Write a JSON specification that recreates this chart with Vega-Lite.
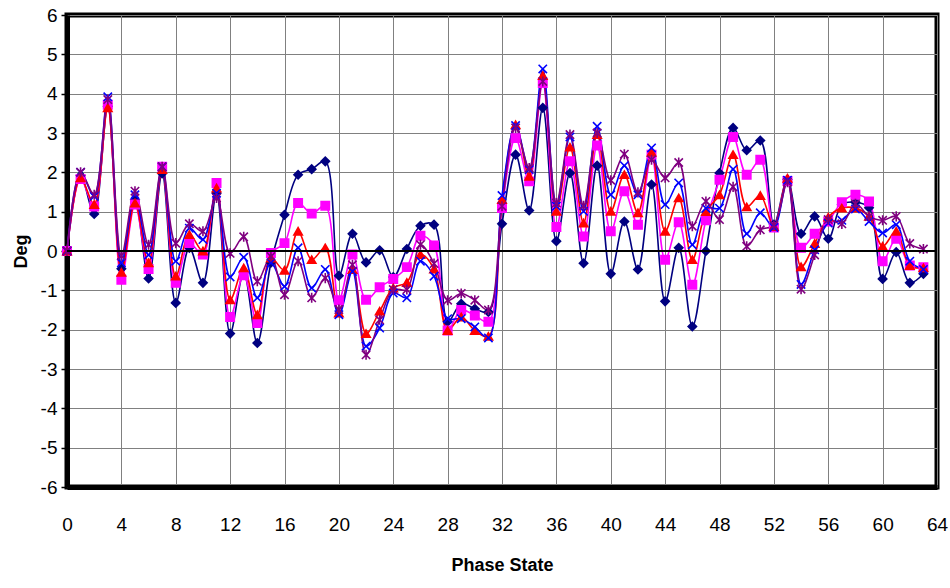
{
  "$schema": "https://vega.github.io/schema/vega-lite/v6.json",
  "width": 870,
  "height": 472,
  "autosize": {"type": "none"},
  "padding": {"left": 67, "top": 15, "right": 13, "bottom": 101},
  "background": "white",
  "view": {"stroke": "black", "strokeWidth": 5},
  "config": {
    "axis": {"labelFont": "Liberation Sans", "labelFontSize": 19, "labelColor": "black", "titleFont": "Liberation Sans", "titleFontSize": 18, "titleFontWeight": "bold", "titleColor": "black", "gridColor": "#808080", "gridWidth": 1, "gridOpacity": 1, "labelOverlap": false, "domainColor": "black", "domainWidth": 5}
  },
  "data": {"values": [
{"x":0,"s":"S1","v":0},{"x":1,"s":"S1","v":1.92},{"x":2,"s":"S1","v":0.94},{"x":3,"s":"S1","v":3.68},{"x":4,"s":"S1","v":-0.45},{"x":5,"s":"S1","v":1.3},{"x":6,"s":"S1","v":-0.7},{"x":7,"s":"S1","v":1.97},{"x":8,"s":"S1","v":-1.32},{"x":9,"s":"S1","v":0.08},{"x":10,"s":"S1","v":-0.81},{"x":11,"s":"S1","v":1.47},{"x":12,"s":"S1","v":-2.1},{"x":13,"s":"S1","v":-0.55},{"x":14,"s":"S1","v":-2.34},{"x":15,"s":"S1","v":-0.3},{"x":16,"s":"S1","v":0.92},{"x":17,"s":"S1","v":1.94},{"x":18,"s":"S1","v":2.08},{"x":19,"s":"S1","v":2.28},{"x":20,"s":"S1","v":-0.63},{"x":21,"s":"S1","v":0.44},{"x":22,"s":"S1","v":-0.29},{"x":23,"s":"S1","v":0.02},{"x":24,"s":"S1","v":-0.66},{"x":25,"s":"S1","v":0.05},{"x":26,"s":"S1","v":0.64},{"x":27,"s":"S1","v":0.67},{"x":28,"s":"S1","v":-1.8},{"x":29,"s":"S1","v":-1.34},{"x":30,"s":"S1","v":-1.47},{"x":31,"s":"S1","v":-1.55},{"x":32,"s":"S1","v":0.69},{"x":33,"s":"S1","v":2.45},{"x":34,"s":"S1","v":1.03},{"x":35,"s":"S1","v":3.64},{"x":36,"s":"S1","v":0.25},{"x":37,"s":"S1","v":1.98},{"x":38,"s":"S1","v":-0.31},{"x":39,"s":"S1","v":2.17},{"x":40,"s":"S1","v":-0.58},{"x":41,"s":"S1","v":0.75},{"x":42,"s":"S1","v":-0.47},{"x":43,"s":"S1","v":1.69},{"x":44,"s":"S1","v":-1.28},{"x":45,"s":"S1","v":0.08},{"x":46,"s":"S1","v":-1.92},{"x":47,"s":"S1","v":0},{"x":48,"s":"S1","v":1.98},{"x":49,"s":"S1","v":3.13},{"x":50,"s":"S1","v":2.56},{"x":51,"s":"S1","v":2.81},{"x":52,"s":"S1","v":0.67},{"x":53,"s":"S1","v":1.82},{"x":54,"s":"S1","v":0.44},{"x":55,"s":"S1","v":0.88},{"x":56,"s":"S1","v":0.31},{"x":57,"s":"S1","v":1.18},{"x":58,"s":"S1","v":1.24},{"x":59,"s":"S1","v":1.1},{"x":60,"s":"S1","v":-0.71},{"x":61,"s":"S1","v":-0.03},{"x":62,"s":"S1","v":-0.81},{"x":63,"s":"S1","v":-0.58},
{"x":0,"s":"S2","v":0},{"x":1,"s":"S2","v":1.83},{"x":2,"s":"S2","v":1.13},{"x":3,"s":"S2","v":3.72},{"x":4,"s":"S2","v":-0.73},{"x":5,"s":"S2","v":1.18},{"x":6,"s":"S2","v":-0.46},{"x":7,"s":"S2","v":2.14},{"x":8,"s":"S2","v":-0.81},{"x":9,"s":"S2","v":0.2},{"x":10,"s":"S2","v":-0.09},{"x":11,"s":"S2","v":1.73},{"x":12,"s":"S2","v":-1.68},{"x":13,"s":"S2","v":-0.62},{"x":14,"s":"S2","v":-1.83},{"x":15,"s":"S2","v":-0.05},{"x":16,"s":"S2","v":0.2},{"x":17,"s":"S2","v":1.22},{"x":18,"s":"S2","v":0.95},{"x":19,"s":"S2","v":1.15},{"x":20,"s":"S2","v":-1.25},{"x":21,"s":"S2","v":-0.09},{"x":22,"s":"S2","v":-1.24},{"x":23,"s":"S2","v":-0.92},{"x":24,"s":"S2","v":-0.71},{"x":25,"s":"S2","v":-0.41},{"x":26,"s":"S2","v":0.39},{"x":27,"s":"S2","v":0.14},{"x":28,"s":"S2","v":-2.02},{"x":29,"s":"S2","v":-1.5},{"x":30,"s":"S2","v":-1.64},{"x":31,"s":"S2","v":-1.8},{"x":32,"s":"S2","v":1.09},{"x":33,"s":"S2","v":2.87},{"x":34,"s":"S2","v":1.77},{"x":35,"s":"S2","v":4.27},{"x":36,"s":"S2","v":0.61},{"x":37,"s":"S2","v":2.28},{"x":38,"s":"S2","v":0.37},{"x":39,"s":"S2","v":2.68},{"x":40,"s":"S2","v":0.5},{"x":41,"s":"S2","v":1.52},{"x":42,"s":"S2","v":0.67},{"x":43,"s":"S2","v":2.45},{"x":44,"s":"S2","v":-0.22},{"x":45,"s":"S2","v":0.73},{"x":46,"s":"S2","v":-0.86},{"x":47,"s":"S2","v":0.78},{"x":48,"s":"S2","v":1.81},{"x":49,"s":"S2","v":2.9},{"x":50,"s":"S2","v":1.94},{"x":51,"s":"S2","v":2.32},{"x":52,"s":"S2","v":0.6},{"x":53,"s":"S2","v":1.78},{"x":54,"s":"S2","v":0.08},{"x":55,"s":"S2","v":0.44},{"x":56,"s":"S2","v":0.75},{"x":57,"s":"S2","v":1.24},{"x":58,"s":"S2","v":1.43},{"x":59,"s":"S2","v":1.26},{"x":60,"s":"S2","v":-0.26},{"x":61,"s":"S2","v":0.31},{"x":62,"s":"S2","v":-0.37},{"x":63,"s":"S2","v":-0.41},
{"x":0,"s":"S3","v":0},{"x":1,"s":"S3","v":1.86},{"x":2,"s":"S3","v":1.18},{"x":3,"s":"S3","v":3.64},{"x":4,"s":"S3","v":-0.54},{"x":5,"s":"S3","v":1.22},{"x":6,"s":"S3","v":-0.3},{"x":7,"s":"S3","v":2.07},{"x":8,"s":"S3","v":-0.64},{"x":9,"s":"S3","v":0.42},{"x":10,"s":"S3","v":0},{"x":11,"s":"S3","v":1.6},{"x":12,"s":"S3","v":-1.24},{"x":13,"s":"S3","v":-0.43},{"x":14,"s":"S3","v":-1.62},{"x":15,"s":"S3","v":-0.18},{"x":16,"s":"S3","v":-0.49},{"x":17,"s":"S3","v":0.5},{"x":18,"s":"S3","v":-0.22},{"x":19,"s":"S3","v":0.08},{"x":20,"s":"S3","v":-1.58},{"x":21,"s":"S3","v":-0.47},{"x":22,"s":"S3","v":-2.1},{"x":23,"s":"S3","v":-1.53},{"x":24,"s":"S3","v":-0.94},{"x":25,"s":"S3","v":-0.8},{"x":26,"s":"S3","v":-0.09},{"x":27,"s":"S3","v":-0.46},{"x":28,"s":"S3","v":-2.02},{"x":29,"s":"S3","v":-1.68},{"x":30,"s":"S3","v":-2.02},{"x":31,"s":"S3","v":-2.17},{"x":32,"s":"S3","v":1.31},{"x":33,"s":"S3","v":3.21},{"x":34,"s":"S3","v":1.9},{"x":35,"s":"S3","v":4.46},{"x":36,"s":"S3","v":1.01},{"x":37,"s":"S3","v":2.64},{"x":38,"s":"S3","v":0.71},{"x":39,"s":"S3","v":2.96},{"x":40,"s":"S3","v":1.01},{"x":41,"s":"S3","v":1.94},{"x":42,"s":"S3","v":0.97},{"x":43,"s":"S3","v":2.51},{"x":44,"s":"S3","v":0.5},{"x":45,"s":"S3","v":1.35},{"x":46,"s":"S3","v":-0.22},{"x":47,"s":"S3","v":1},{"x":48,"s":"S3","v":1.43},{"x":49,"s":"S3","v":2.45},{"x":50,"s":"S3","v":1.12},{"x":51,"s":"S3","v":1.41},{"x":52,"s":"S3","v":0.62},{"x":53,"s":"S3","v":1.85},{"x":54,"s":"S3","v":-0.4},{"x":55,"s":"S3","v":0.19},{"x":56,"s":"S3","v":0.86},{"x":57,"s":"S3","v":1.09},{"x":58,"s":"S3","v":1.09},{"x":59,"s":"S3","v":0.88},{"x":60,"s":"S3","v":0.12},{"x":61,"s":"S3","v":0.5},{"x":62,"s":"S3","v":-0.37},{"x":63,"s":"S3","v":-0.43},
{"x":0,"s":"S4","v":0},{"x":1,"s":"S4","v":2.0},{"x":2,"s":"S4","v":1.39},{"x":3,"s":"S4","v":3.92},{"x":4,"s":"S4","v":-0.3},{"x":5,"s":"S4","v":1.43},{"x":6,"s":"S4","v":-0.1},{"x":7,"s":"S4","v":2.14},{"x":8,"s":"S4","v":-0.26},{"x":9,"s":"S4","v":0.58},{"x":10,"s":"S4","v":0.29},{"x":11,"s":"S4","v":1.47},{"x":12,"s":"S4","v":-0.66},{"x":13,"s":"S4","v":-0.16},{"x":14,"s":"S4","v":-1.19},{"x":15,"s":"S4","v":-0.3},{"x":16,"s":"S4","v":-0.9},{"x":17,"s":"S4","v":0.08},{"x":18,"s":"S4","v":-0.94},{"x":19,"s":"S4","v":-0.47},{"x":20,"s":"S4","v":-1.62},{"x":21,"s":"S4","v":-0.52},{"x":22,"s":"S4","v":-2.42},{"x":23,"s":"S4","v":-1.96},{"x":24,"s":"S4","v":-1.07},{"x":25,"s":"S4","v":-1.19},{"x":26,"s":"S4","v":-0.26},{"x":27,"s":"S4","v":-0.64},{"x":28,"s":"S4","v":-1.72},{"x":29,"s":"S4","v":-1.72},{"x":30,"s":"S4","v":-1.93},{"x":31,"s":"S4","v":-2.21},{"x":32,"s":"S4","v":1.41},{"x":33,"s":"S4","v":3.19},{"x":34,"s":"S4","v":2.07},{"x":35,"s":"S4","v":4.63},{"x":36,"s":"S4","v":1.14},{"x":37,"s":"S4","v":2.9},{"x":38,"s":"S4","v":1.01},{"x":39,"s":"S4","v":3.17},{"x":40,"s":"S4","v":1.43},{"x":41,"s":"S4","v":2.17},{"x":42,"s":"S4","v":1.43},{"x":43,"s":"S4","v":2.62},{"x":44,"s":"S4","v":1.18},{"x":45,"s":"S4","v":1.73},{"x":46,"s":"S4","v":0.16},{"x":47,"s":"S4","v":1.09},{"x":48,"s":"S4","v":1.09},{"x":49,"s":"S4","v":2.08},{"x":50,"s":"S4","v":0.44},{"x":51,"s":"S4","v":0.97},{"x":52,"s":"S4","v":0.6},{"x":53,"s":"S4","v":1.8},{"x":54,"s":"S4","v":-0.85},{"x":55,"s":"S4","v":0.03},{"x":56,"s":"S4","v":0.71},{"x":57,"s":"S4","v":0.78},{"x":58,"s":"S4","v":1.07},{"x":59,"s":"S4","v":0.75},{"x":60,"s":"S4","v":0.46},{"x":61,"s":"S4","v":0.67},{"x":62,"s":"S4","v":-0.26},{"x":63,"s":"S4","v":-0.47},
{"x":0,"s":"S5","v":0},{"x":1,"s":"S5","v":2.0},{"x":2,"s":"S5","v":1.43},{"x":3,"s":"S5","v":3.85},{"x":4,"s":"S5","v":-0.12},{"x":5,"s":"S5","v":1.52},{"x":6,"s":"S5","v":0.16},{"x":7,"s":"S5","v":2.14},{"x":8,"s":"S5","v":0.2},{"x":9,"s":"S5","v":0.69},{"x":10,"s":"S5","v":0.5},{"x":11,"s":"S5","v":1.35},{"x":12,"s":"S5","v":-0.06},{"x":13,"s":"S5","v":0.36},{"x":14,"s":"S5","v":-0.77},{"x":15,"s":"S5","v":-0.14},{"x":16,"s":"S5","v":-1.11},{"x":17,"s":"S5","v":-0.26},{"x":18,"s":"S5","v":-1.19},{"x":19,"s":"S5","v":-0.69},{"x":20,"s":"S5","v":-1.49},{"x":21,"s":"S5","v":-0.35},{"x":22,"s":"S5","v":-2.64},{"x":23,"s":"S5","v":-1.75},{"x":24,"s":"S5","v":-0.98},{"x":25,"s":"S5","v":-0.98},{"x":26,"s":"S5","v":0.16},{"x":27,"s":"S5","v":-0.32},{"x":28,"s":"S5","v":-1.25},{"x":29,"s":"S5","v":-1.08},{"x":30,"s":"S5","v":-1.25},{"x":31,"s":"S5","v":-1.5},{"x":32,"s":"S5","v":1.14},{"x":33,"s":"S5","v":3.13},{"x":34,"s":"S5","v":2.11},{"x":35,"s":"S5","v":4.31},{"x":36,"s":"S5","v":1.22},{"x":37,"s":"S5","v":2.96},{"x":38,"s":"S5","v":1.15},{"x":39,"s":"S5","v":3.0},{"x":40,"s":"S5","v":1.8},{"x":41,"s":"S5","v":2.46},{"x":42,"s":"S5","v":1.49},{"x":43,"s":"S5","v":2.32},{"x":44,"s":"S5","v":1.86},{"x":45,"s":"S5","v":2.25},{"x":46,"s":"S5","v":0.63},{"x":47,"s":"S5","v":1.26},{"x":48,"s":"S5","v":0.8},{"x":49,"s":"S5","v":1.63},{"x":50,"s":"S5","v":0.12},{"x":51,"s":"S5","v":0.54},{"x":52,"s":"S5","v":0.65},{"x":53,"s":"S5","v":1.75},{"x":54,"s":"S5","v":-0.97},{"x":55,"s":"S5","v":-0.1},{"x":56,"s":"S5","v":0.8},{"x":57,"s":"S5","v":0.69},{"x":58,"s":"S5","v":1.2},{"x":59,"s":"S5","v":0.88},{"x":60,"s":"S5","v":0.78},{"x":61,"s":"S5","v":0.88},{"x":62,"s":"S5","v":0.19},{"x":63,"s":"S5","v":0.05}
  ]},
  "encoding": {
    "x": {"field": "x", "type": "quantitative", "scale": {"domain": [0, 64], "nice": false, "zero": false},
          "axis": {"values": [0,4,8,12,16,20,24,28,32,36,40,44,48,52,56,60,64], "grid": true, "ticks": false, "domain": true, "labelPadding": 28, "title": "Phase State", "titlePadding": 22, "labelFlush": false}},
    "y": {"field": "v", "type": "quantitative", "scale": {"domain": [-6, 6], "nice": false},
          "axis": {"values": [-6,-5,-4,-3,-2,-1,0,1,2,3,4,5,6], "tickCount": 13, "grid": true, "ticks": true, "tickSize": 6, "tickColor": "black", "tickWidth": 1.5, "domain": true, "labelPadding": 4, "title": "Deg", "titlePadding": 10, "labelFlush": false,
                   "labelExpr": "datum.value < 0 ? '-' + abs(datum.value) : '' + datum.value"}}
  },
  "layer": [
    {
      "mark": {"type": "line", "interpolate": "catmull-rom", "strokeWidth": 1.6},
      "encoding": {
        "color": {"field": "s", "type": "nominal", "legend": null,
                  "scale": {"domain": ["S1","S2","S3","S4","S5"], "range": ["#000080","#FF00FF","#FF0000","#0000FF","#800080"]}},
        "order": {"field": "x", "type": "quantitative"}
      }
    },
    {
      "mark": {"type": "point", "filled": true, "opacity": 1, "strokeWidth": 1.6, "size": 70},
      "encoding": {
        "fill": {"field": "s", "type": "nominal", "legend": null,
                 "scale": {"domain": ["S1","S2","S3","S4","S5"], "range": ["#000080","#FF00FF","#FF0000","#0000FF","#800080"]}},
        "stroke": {"field": "s", "type": "nominal", "legend": null,
                 "scale": {"domain": ["S1","S2","S3","S4","S5"], "range": ["#000080","#FF00FF","#FF0000","#0000FF","#800080"]}},
        "shape": {"field": "s", "type": "nominal", "legend": null,
                  "scale": {"domain": ["S1","S2","S3","S4","S5"], "range": ["diamond","square","triangle-up","M-1,-1L1,1M-1,1L1,-1","M-1,-1L1,1M-1,1L1,-1M0,-1.2L0,1.2"]}}
      }
    },
    {
      "mark": {"type": "rule", "color": "black", "strokeWidth": 1.5},
      "encoding": {"y": {"datum": 0, "type": "quantitative"}, "x": {"value": 0}, "x2": {"value": 870}}
    }
  ]
}
